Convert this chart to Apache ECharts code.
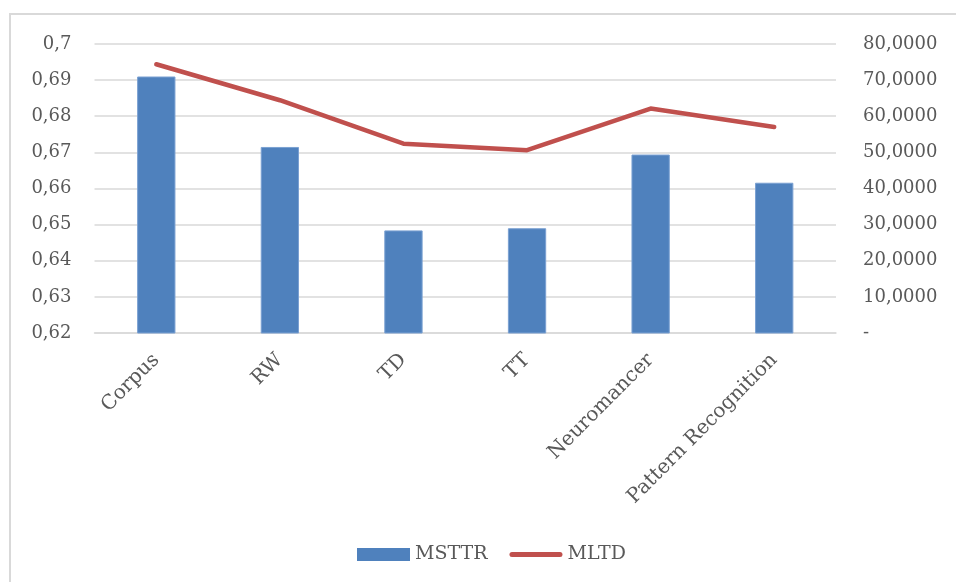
<!DOCTYPE html>
<html>
<head>
<meta charset="utf-8">
<script src="https://cdn.jsdelivr.net/npm/echarts@6/dist/echarts.min.js"></script>
<style>
  html, body { margin: 0; padding: 0; background: #ffffff; }
  #chart { width: 956px; height: 582px; }
</style>
</head>
<body>
<div id="chart"></div>
<script>
// Texts and corpora compared
const categories = ['Corpus', 'RW', 'TD', 'TT', 'Neuromancer', 'Pattern Recognition'];
// Mean segmental type-token ratio (left axis)
const msttr = [0.691, 0.6715, 0.6484, 0.649, 0.6694, 0.6616];
// Measure of textual lexical diversity (right axis)
const mltd = [74.39, 64.43, 52.40, 50.61, 62.14, 57.05];

const FONT = '"DejaVu Serif", "Liberation Serif", serif';
const TEXT = '#595959';
const GRID = '#d9d9d9';
const RED = '#c0504d';

const chart = echarts.init(document.getElementById('chart'), null, { renderer: 'canvas' });

chart.setOption({
  backgroundColor: '#ffffff',
  animation: false,
  graphic: [{
    type: 'rect',
    shape: { x: 10, y: 14, width: 980, height: 620 },
    style: { fill: 'none', stroke: GRID, lineWidth: 2 },
    silent: true
  }],
  grid: { left: 94.5, right: 120, top: 44, bottom: 249, containLabel: false },
  legend: {
    left: 352,
    top: 540,
    itemWidth: 53,
    itemHeight: 13,
    itemGap: 22,
    symbolKeepAspect: true,
    textStyle: { fontFamily: FONT, fontSize: 19, color: TEXT },
    data: [
      { name: 'MSTTR', icon: 'rect', itemStyle: { color: '#4f81bd', borderWidth: 0 } },
      {
        name: 'MLTD',
        icon: 'path://M2.5,0 L50.5,0 A2.5,2.5 0 0 1 50.5,5 L2.5,5 A2.5,2.5 0 0 1 2.5,0 Z',
        itemStyle: { color: RED, borderWidth: 0 }
      }
    ]
  },
  xAxis: {
    type: 'category',
    data: categories,
    axisTick: { show: false },
    axisLine: { lineStyle: { color: GRID, width: 1.5 } },
    axisLabel: {
      rotate: 45,
      margin: 24,
      interval: 0,
      fontFamily: FONT,
      fontSize: 20,
      color: TEXT
    }
  },
  yAxis: [
    {
      type: 'value',
      min: 0.62,
      max: 0.7,
      interval: 0.01,
      axisLine: { show: false },
      axisTick: { show: false },
      splitLine: { lineStyle: { color: GRID, width: 1.5 } },
      axisLabel: {
        margin: 23,
        fontFamily: FONT,
        fontSize: 18,
        color: TEXT,
        formatter: v => String(Math.round(v * 100) / 100).replace('.', ',')
      }
    },
    {
      type: 'value',
      min: 0,
      max: 80,
      interval: 10,
      axisLine: { show: false },
      axisTick: { show: false },
      splitLine: { show: false },
      axisLabel: {
        margin: 27,
        fontFamily: FONT,
        fontSize: 18,
        color: TEXT,
        formatter: v => v === 0 ? '-' : v.toFixed(4).replace('.', ',')
      }
    }
  ],
  series: [
    {
      name: 'MSTTR',
      type: 'bar',
      yAxisIndex: 0,
      barWidth: '31%',
      data: msttr,
      itemStyle: { color: '#4f81bd', borderColor: '#7aa0d2', borderWidth: 1 }
    },
    {
      name: 'MLTD',
      type: 'line',
      yAxisIndex: 1,
      data: mltd,
      symbol: 'none',
      showSymbol: false,
      lineStyle: { color: RED, width: 4.5, cap: 'round', join: 'round' },
      itemStyle: { color: RED }
    }
  ]
});
</script>
</body>
</html>
